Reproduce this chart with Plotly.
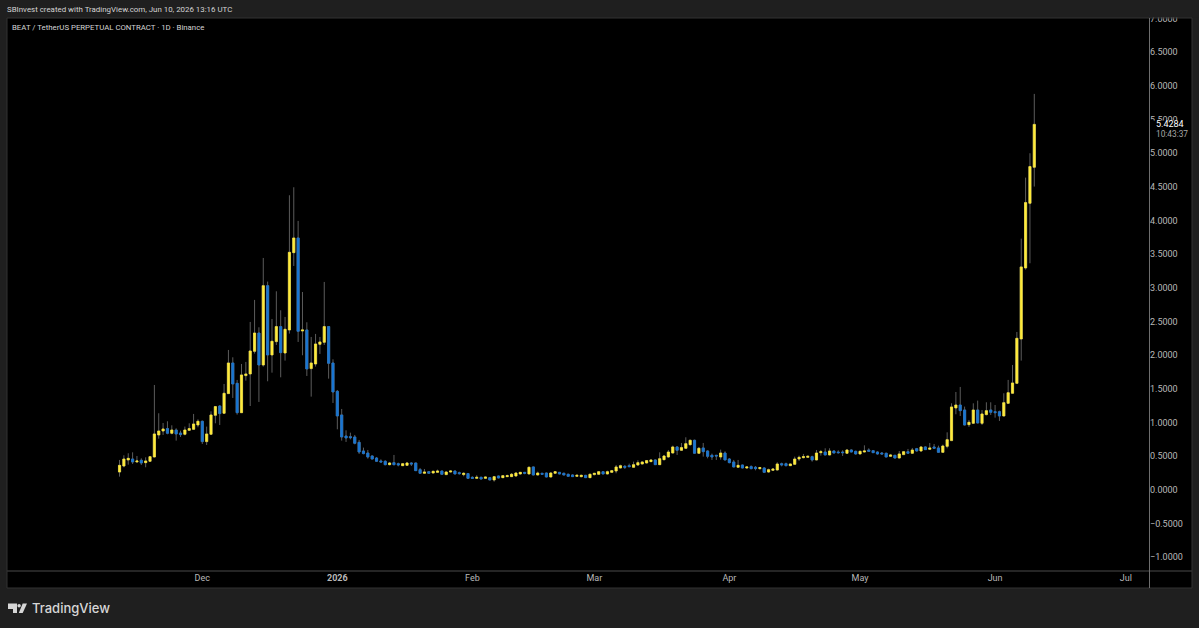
import numpy as np
import pandas as pd
import plotly.graph_objects as go

# BEAT/USDT daily candles
opens = [
    .267, .356, .446, .460, .416, .441, .406, .426, .490, .817,
    .876, .911, .842, .891, .846, .827, .886, .901, .965, 1.020,
    .718, .827, 1.109, 1.247, 1.139, 1.431, 1.886, 1.584, 1.148, 1.698,
    1.723, 2.059, 2.331, 1.856, 3.034, 2.005, 2.203, 2.426, 2.034, 2.376,
    3.524, 3.742, 2.361, 2.376, 1.802, 1.871, 2.163, 2.193, 2.426, 1.886,
    1.465, 1.114, .802, .792, .787, .708, .579, .549, .505, .475,
    .431, .426, .376, .406, .391, .361, .366, .401, .401, .302,
    .248, .272, .252, .262, .282, .228, .267, .282, .257, .228,
    .243, .188, .173, .188, .173, .183, .149, .208, .183, .198,
    .198, .208, .238, .262, .238, .342, .223, .248, .252, .193,
    .248, .262, .248, .233, .223, .203, .198, .218, .183, .228,
    .233, .272, .238, .262, .282, .327, .351, .361, .337, .371,
    .386, .401, .421, .446, .376, .450, .490, .549, .639, .589,
    .619, .673, .738, .545, .624, .579, .515, .515, .490, .549,
    .460, .416, .337, .371, .327, .347, .337, .317, .327, .267,
    .292, .297, .391, .391, .361, .381, .460, .480, .485, .495,
    .446, .554, .564, .520, .579, .564, .564, .545, .594, .574,
    .535, .564, .594, .584, .564, .549, .545, .500, .515, .475,
    .525, .569, .545, .614, .579, .639, .604, .639, .624, .559,
    .648, .733, 1.218, 1.262, 1.188, .970, .990, 1.188, .990, 1.119,
    1.188, 1.163, 1.163, 1.099, 1.287, 1.436, 1.584, 2.242, 3.297, 4.257,
    4.792,
]
closes = [
    .366, .460, .470, .416, .431, .401, .431, .495, .832, .876,
    .906, .842, .891, .832, .822, .891, .911, .980, 1.020, .718,
    .832, 1.114, 1.238, 1.134, 1.436, 1.886, 1.574, 1.148, 1.708, 1.723,
    2.064, 2.331, 1.856, 3.034, 2.005, 2.208, 2.426, 2.039, 2.386, 3.529,
    3.742, 2.356, 2.376, 1.797, 1.886, 2.168, 2.198, 2.426, 1.881, 1.455,
    1.099, .787, .772, .777, .693, .564, .540, .490, .460, .426,
    .416, .376, .401, .376, .371, .391, .401, .386, .287, .248,
    .267, .248, .277, .282, .233, .267, .282, .238, .243, .248,
    .173, .173, .188, .163, .193, .149, .198, .178, .213, .213,
    .233, .252, .262, .248, .337, .223, .252, .233, .193, .252,
    .272, .238, .223, .203, .198, .218, .218, .183, .233, .248,
    .272, .238, .272, .287, .342, .361, .337, .347, .376, .406,
    .416, .436, .446, .376, .465, .505, .564, .639, .589, .629,
    .688, .738, .545, .619, .569, .500, .490, .505, .549, .446,
    .406, .342, .366, .327, .342, .317, .317, .332, .262, .302,
    .312, .386, .371, .361, .386, .460, .485, .495, .500, .446,
    .549, .569, .520, .579, .549, .554, .554, .594, .564, .535,
    .574, .579, .574, .554, .535, .535, .490, .520, .475, .535,
    .569, .545, .594, .579, .639, .599, .624, .619, .559, .653,
    .747, 1.233, 1.262, 1.178, .965, 1.005, 1.188, .995, 1.129, 1.178,
    1.153, 1.148, 1.099, 1.297, 1.445, 1.589, 2.252, 3.312, 4.267, 4.802,
    5.4284,
]
highs = [
    .446, .515, .545, .559, .505, .470, .485, .505, 1.559, 1.139,
    .995, 1.020, .960, .916, .881, .941, .990, 1.129, 1.049, 1.030,
    .941, 1.168, 1.247, 1.260, 1.574, 2.079, 1.970, 1.634, 1.871, 1.901,
    2.495, 2.822, 2.416, 3.445, 3.094, 2.539, 2.950, 2.668, 2.569, 4.376,
    4.495, 3.995, 2.940, 2.490, 2.272, 2.317, 2.272, 3.089, 2.435, 1.940,
    1.485, 1.203, .886, .851, .817, .743, .629, .594, .515, .490,
    .455, .441, .416, .520, .406, .401, .416, .411, .406, .327,
    .312, .282, .287, .302, .287, .277, .287, .287, .272, .262,
    .252, .203, .218, .198, .198, .193, .208, .213, .218, .228,
    .252, .262, .267, .267, .347, .347, .272, .252, .257, .267,
    .282, .267, .257, .243, .233, .228, .228, .223, .243, .252,
    .282, .277, .287, .297, .371, .376, .371, .391, .421, .441,
    .426, .441, .455, .455, .559, .520, .594, .658, .653, .698,
    .782, .747, .747, .639, .698, .589, .540, .520, .599, .574,
    .475, .446, .446, .376, .356, .366, .356, .342, .337, .317,
    .322, .411, .406, .406, .391, .495, .510, .535, .510, .510,
    .594, .594, .619, .619, .589, .589, .589, .604, .604, .584,
    .584, .663, .619, .594, .574, .564, .554, .535, .520, .579,
    .579, .609, .624, .624, .653, .648, .698, .683, .658, .673,
    .856, 1.287, 1.455, 1.530, 1.238, 1.040, 1.287, 1.327, 1.188, 1.302,
    1.302, 1.262, 1.178, 1.436, 1.634, 1.856, 2.346, 3.732, 4.638, 5.000,
    5.881,
]
lows = [
    .198, .337, .376, .386, .406, .371, .337, .416, .485, .762,
    .817, .827, .827, .733, .787, .812, .876, .891, .931, .683,
    .668, .817, .990, .965, 1.134, 1.426, 1.366, 1.119, 1.143, 1.624,
    1.247, 2.025, 1.307, 1.832, 1.614, 1.742, 2.153, 1.673, 1.921, 2.322,
    3.326, 2.198, 2.000, 1.693, 1.386, 1.832, 2.020, 2.153, 1.653, 1.292,
    .901, .733, .713, .752, .678, .535, .530, .465, .455, .416,
    .406, .366, .366, .366, .351, .356, .361, .356, .282, .243,
    .243, .243, .248, .252, .228, .223, .262, .233, .228, .203,
    .168, .168, .168, .158, .163, .144, .124, .173, .178, .193,
    .193, .198, .228, .233, .233, .218, .218, .228, .188, .188,
    .238, .233, .218, .198, .193, .193, .188, .178, .178, .218,
    .228, .233, .233, .257, .248, .322, .312, .337, .332, .361,
    .381, .396, .416, .371, .371, .441, .480, .545, .520, .579,
    .609, .658, .540, .535, .495, .470, .446, .446, .450, .441,
    .396, .337, .332, .322, .312, .307, .292, .302, .257, .257,
    .287, .292, .351, .351, .356, .376, .431, .470, .475, .421,
    .441, .510, .515, .515, .545, .540, .505, .535, .559, .525,
    .530, .559, .569, .549, .525, .525, .485, .490, .470, .470,
    .520, .540, .535, .569, .569, .594, .594, .609, .554, .554,
    .619, .728, 1.124, 1.099, .960, .936, .985, .990, .965, 1.109,
    1.114, 1.074, 1.025, 1.094, 1.282, 1.431, 1.579, 1.921, 3.272, 3.366,
    4.505,
]
dates = pd.date_range("2025-11-12", periods=len(closes), freq="D")

month_ticks = ["2025-12-01", "2026-01-01", "2026-02-01", "2026-03-01",
               "2026-04-01", "2026-05-01", "2026-06-01", "2026-07-01"]
month_labels = ["Dec", "<b>2026</b>", "Feb", "Mar", "Apr", "May", "Jun", "Jul"]

last_price = "5.4284"
countdown = "10:43:37"

BG = "#1f1f1f"
YELLOW = "#ffeb3b"
BLUE = "#1976d2"
WICK = "#5c5c5c"
TEXT = "#b8b8b8"


# page pixels -> paper fractions, plot area is x 7..1149, y 18..571
def px(x):
    return (x - 7) / 1142


def py(y):
    return (571 - y) / 553


def rect(x0, y0, x1, y1, fill=None, line=None, layer="below"):
    return dict(type="rect", xref="paper", yref="paper", x0=px(x0), x1=px(x1), y0=py(y0), y1=py(y1),
                fillcolor=fill, line=dict(color=line, width=1 if line else 0), layer=layer)


def hline(x0, x1, y, color):
    return dict(type="line", xref="paper", yref="paper", x0=px(x0), x1=px(x1), y0=py(y), y1=py(y),
                line=dict(color=color, width=1), layer="above")


def vline(x, y0, y1, color):
    return dict(type="line", xref="paper", yref="paper", x0=px(x), x1=px(x), y0=py(y0), y1=py(y1),
                line=dict(color=color, width=1), layer="above")


def logo_path(points):
    return "M " + " L ".join(f"{px(x)} {py(y)}" for x, y in points) + " Z"


body_high = np.maximum(opens, closes)
body_low = np.minimum(opens, closes)

fig = go.Figure()

# wicks first, grey, then bodies on top with their own colours
fig.add_trace(go.Candlestick(
    x=dates, open=opens, high=highs, low=lows, close=closes,
    increasing=dict(line=dict(color=WICK, width=1), fillcolor=WICK),
    decreasing=dict(line=dict(color=WICK, width=1), fillcolor=WICK),
    hoverinfo="skip", showlegend=False,
))
fig.add_trace(go.Candlestick(
    x=dates, open=opens, high=body_high, low=body_low, close=closes,
    increasing=dict(line=dict(color=YELLOW, width=0.6), fillcolor=YELLOW),
    decreasing=dict(line=dict(color=BLUE, width=0.6), fillcolor=BLUE),
    hoverinfo="skip", showlegend=False,
))

shapes = [
    rect(7, 18, 1192, 588, fill="#000000"),
    # hides the clipped top of 7.0000 and the 5.5000 label behind the price tag
    rect(1150, 0, 1199, 17.5, fill=BG, layer="above"),
    rect(1150, 120.5, 1191, 141, fill="#000000", layer="above"),
    hline(7, 1192, 571, "#4a4a4a"),
    hline(7, 1192, 588, "#333333"),
    hline(7, 1192, 18, "#333333"),
    vline(1149.5, 18, 588, "#6e6e6e"),
    vline(1192, 18, 588, "#333333"),
    vline(7, 18, 588, "#333333"),
    # TradingView mark
    dict(type="path", xref="paper", yref="paper", fillcolor="#d6d6d6", line=dict(width=0), layer="above",
         path=logo_path([(8, 603.5), (17, 603.5), (17, 613), (13, 613), (13, 609), (8, 609)])),
    dict(type="path", xref="paper", yref="paper", fillcolor="#d6d6d6", line=dict(width=0), layer="above",
         path=logo_path([(22.7, 603.5), (27, 603.5), (22.7, 613), (18.8, 613)])),
    dict(type="circle", xref="paper", yref="paper", x0=px(17.4), x1=px(20.8), y0=py(604), y1=py(607.4),
         fillcolor="#d6d6d6", line=dict(width=0), layer="above"),
]

annotations = [
    dict(text="SBInvest created with TradingView.com, Jun 10, 2026 13:16 UTC", x=px(5.5), y=py(9),
         font=dict(size=7.9, color="#d4d4d4")),
    dict(text="BEAT / TetherUS PERPETUAL CONTRACT · 1D · Binance", x=px(11), y=py(27),
         font=dict(size=7.8, color="#d4d4d4")),
    dict(text="TradingView", x=px(31), y=py(608),
         font=dict(size=13, color="#d6d6d6", family="Inter", weight=500)),
    dict(text=last_price, x=px(1155), y=py(124.5),
         font=dict(size=9, color="#ffffff")),
    dict(text=countdown, x=px(1154.5), y=py(133.5),
         font=dict(size=8.3, color="#a8a8a8")),
]
for a in annotations:
    a.update(xref="paper", yref="paper", xanchor="left", yanchor="middle", showarrow=False,
             borderpad=0, align="left")

fig.update_layout(
    width=1199, height=628,
    margin=dict(l=7, r=50, t=18, b=57),
    paper_bgcolor=BG, plot_bgcolor="#000000",
    font=dict(family="Roboto", size=9, color=TEXT),
    showlegend=False,
    shapes=shapes, annotations=annotations,
    xaxis=dict(
        type="date", range=["2025-10-17 04:00", "2026-07-06 08:00"],
        rangeslider=dict(visible=False), showgrid=False, zeroline=False, showline=False,
        tickmode="array", tickvals=month_ticks, ticktext=month_labels, ticks="", tickangle=0,
        tickfont=dict(size=9, color=TEXT),
    ),
    yaxis=dict(
        range=[-1.203, 7.008], side="right", showgrid=False, zeroline=False, showline=False,
        tick0=0, dtick=0.5, tickformat=".4f", ticks="", tickfont=dict(size=9, color=TEXT),
    ),
)

fig.write_html("out.html", config=dict(displayModeBar=False),
               post_script="document.body.style.margin='0';document.body.style.background='#1f1f1f';")
